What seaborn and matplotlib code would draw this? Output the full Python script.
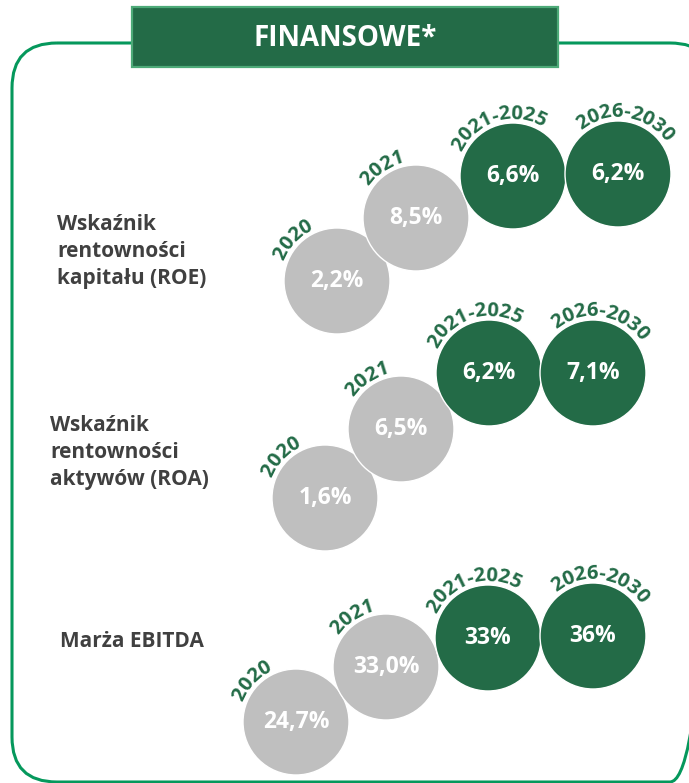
import numpy as np
import pandas as pd
import seaborn as sns
import matplotlib.pyplot as plt
from matplotlib.patches import FancyBboxPatch, Rectangle

# data
title = "FINANSOWE*"
metrics = ["Wskaźnik\nrentowności\nkapitału (ROE)",
           "Wskaźnik\nrentowności\naktywów (ROA)",
           "Marża EBITDA"]
periods = ["2020", "2021", "2021-2025", "2026-2030"]
kinds = ["fakt", "fakt", "cel", "cel"]
roe = [2.2, 8.5, 6.6, 6.2]
roa = [1.6, 6.5, 6.2, 7.1]
ebitda = [24.7, 33.0, 33, 36]
decimals = [[1, 1, 1, 1], [1, 1, 1, 1], [1, 1, 0, 0]]

# layout (pixels, y down)
centers = [
    [(337, 281), (416, 218), (513, 176), (618, 174)],
    [(325, 498), (401, 429), (489, 373), (593, 373)],
    [(296, 722), (386, 667), (488, 638), (593, 636)],
]
label_xy = [(57, 230), (50, 431), (60, 647)]
line_gap = 27
arc_angle = [137, 124, 107, 82]
radius = 53

GREEN = "#236B47"
GREY = "#BFBFBF"
FRAME = "#05985C"
FONT = "Open Sans"

sns.set_theme(style="white")
plt.rcParams["font.family"] = [FONT, "DejaVu Sans"]

rows = []
for i, vals in enumerate([roe, roa, ebitda]):
    for j, v in enumerate(vals):
        rows.append({"metric": i, "period": periods[j], "kind": kinds[j],
                     "value": v, "dec": decimals[i][j],
                     "x": centers[i][j][0], "y": centers[i][j][1]})
df = pd.DataFrame(rows)

fig = plt.figure(figsize=(6.89, 7.83), dpi=100)
ax = fig.add_axes([0, 0, 1, 1])

# frame and title box
frame = FancyBboxPatch((12, 43), 703, 739, boxstyle="round,pad=0,rounding_size=45",
                       fill=False, edgecolor=FRAME, linewidth=2.2, zorder=1)
ax.add_patch(frame)
ax.add_patch(Rectangle((132, 7), 426, 60, facecolor=GREEN, edgecolor="#4DAA78",
                       linewidth=1.6, zorder=2))
ax.text(345, 38, title, color="white", fontsize=20, fontweight="bold",
        ha="center", va="center", zorder=3)

# circles
size_pt = 2 * radius * 72 / 100
sns.scatterplot(data=df, x="x", y="y", hue="kind",
                palette={"fakt": GREY, "cel": GREEN}, s=size_pt ** 2,
                edgecolor="white", linewidth=1, legend=False, ax=ax, zorder=3)

for _, r in df.iterrows():
    txt = f"{r['value']:.{int(r['dec'])}f}".replace(".", ",") + "%"
    ax.text(r["x"], r["y"] + 6, txt, color="white", fontsize=16.5,
            fontweight="bold", ha="center", va="baseline", zorder=4)

# curved period labels
fs_year = 14.5
em = fs_year * 100 / 72
adv = {"-": 0.32}
r_base = radius + 4
for _, r in df.iterrows():
    j = periods.index(r["period"])
    widths = [adv.get(c, 0.55) * em for c in r["period"]]
    total = sum(widths)
    theta0 = np.radians(arc_angle[j]) + total / 2 / r_base
    pos = 0
    for c, w in zip(r["period"], widths):
        th = theta0 - (pos + w / 2) / r_base
        pos += w
        ax.text(r["x"] + r_base * np.cos(th), r["y"] - r_base * np.sin(th), c,
                color=GREEN, fontsize=fs_year, fontweight="bold",
                rotation=np.degrees(th) - 90, rotation_mode="anchor",
                ha="center", va="baseline", zorder=4)

# metric names
for (x0, y0), name in zip(label_xy, metrics):
    for k, line in enumerate(name.split("\n")):
        ax.text(x0, y0 + k * line_gap, line, color="#404040", fontsize=15,
                fontweight="bold", ha="left", va="baseline")

ax.set_xlim(0, 689)
ax.set_ylim(783, 0)
ax.set_axis_off()
fig.savefig("out.png", dpi=100)
